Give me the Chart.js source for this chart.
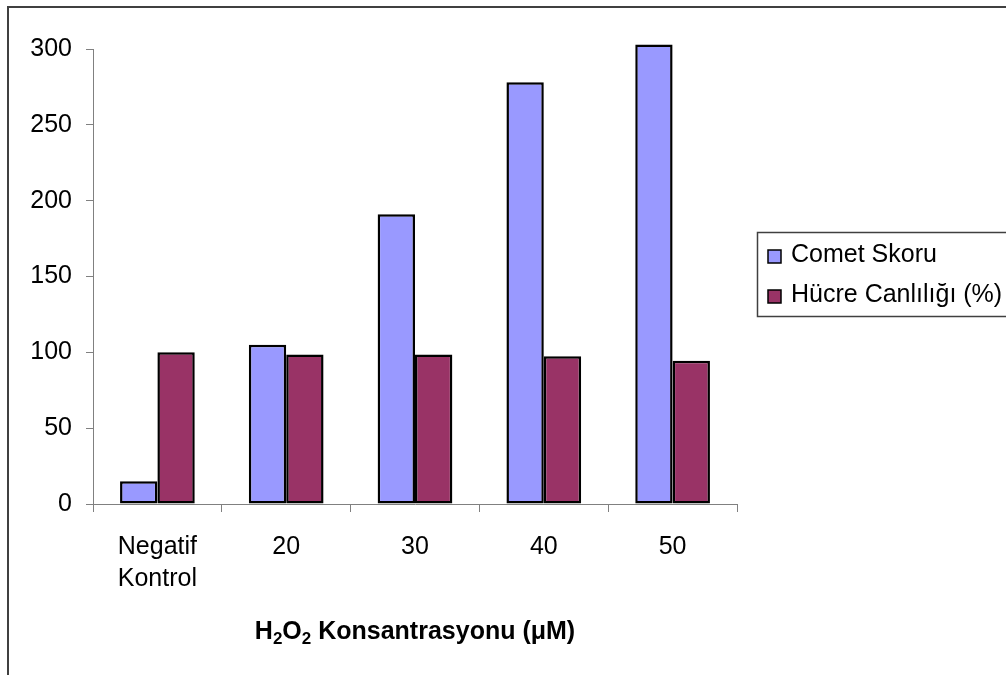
<!DOCTYPE html>
<html><head><meta charset="utf-8">
<script src="https://cdn.jsdelivr.net/npm/chart.js@4.4.0/dist/chart.umd.min.js"></script>
<style>
html,body{margin:0;padding:0;background:#fff;overflow:hidden;width:1006px;height:675px}
#frame{position:absolute;left:7px;top:6px;width:1100px;height:800px;border:2px solid #404040;box-sizing:border-box}
#wrap{position:absolute;left:0;top:0;width:1006px;height:675px}
</style></head><body>
<div id="frame"></div>
<div id="wrap"><canvas id="c" width="1006" height="675"></canvas></div>
<script>
const categories = [["Negatif","Kontrol"], "20", "30", "40", "50"];
const seriesNames = ["Comet Skoru", "Hücre Canlılığı (%)"];
const cometSkoru = [15, 105, 191, 278, 303];
const hucreCanliligi = [100, 98.5, 98.5, 97.5, 94.5];
const yTicks = [0, 50, 100, 150, 200, 250, 300];
// x-axis title pieces: [text, subscript?]
const axisTitleParts = [["H", false], ["2", true], ["O", false], ["2", true], [" Konsantrasyonu (μM)", false]];

const FAMILY = '"Liberation Sans", Arial, sans-serif';

const boxLegend = {
  id: 'boxLegend',
  afterDraw(chart) {
    const ctx = chart.ctx;
    ctx.save();
    ctx.strokeStyle = '#404040';
    ctx.lineWidth = 1.5;
    ctx.strokeRect(757.5, 232.5, 300, 84);
    const rows = [255, 295];
    chart.data.datasets.forEach((ds, i) => {
      const y = rows[i];
      ctx.fillStyle = ds.backgroundColor;
      ctx.fillRect(768, y - 5, 13, 13);
      ctx.strokeStyle = '#000';
      ctx.lineWidth = 1.5;
      ctx.strokeRect(768, y - 5, 13, 13);
      ctx.fillStyle = '#000';
      ctx.font = '25px ' + FAMILY;
      ctx.textBaseline = 'middle';
      ctx.textAlign = 'left';
      ctx.fillText(ds.label, 791, y);
    });
    ctx.restore();
  }
};

const axisTitlePlugin = {
  id: 'axisTitlePlugin',
  afterDraw(chart) {
    const ctx = chart.ctx;
    const area = chart.chartArea;
    const cx = (area.left + area.right) / 2;
    const baseline = area.bottom + 135;
    const mainFont = 'bold 25px ' + FAMILY;
    const subFont = 'bold 17px ' + FAMILY;
    ctx.save();
    ctx.textBaseline = 'alphabetic';
    ctx.textAlign = 'left';
    ctx.fillStyle = '#000';
    let total = 0;
    const widths = axisTitleParts.map(([t, sub]) => {
      ctx.font = sub ? subFont : mainFont;
      const w = ctx.measureText(t).width;
      total += w;
      return w;
    });
    let x = cx - total / 2;
    axisTitleParts.forEach(([t, sub], i) => {
      ctx.font = sub ? subFont : mainFont;
      ctx.fillText(t, x, baseline + (sub ? 5 : 0));
      x += widths[i];
    });
    ctx.restore();
  }
};

new Chart(document.getElementById('c'), {
  type: 'bar',
  data: {
    labels: categories,
    datasets: [
      { label: seriesNames[0], data: cometSkoru, backgroundColor: '#9999FF', borderColor: '#000', borderWidth: 2.5, borderSkipped: false, clip: false },
      { label: seriesNames[1], data: hucreCanliligi, backgroundColor: '#993366', borderColor: '#000', borderWidth: 2.5, borderSkipped: false, clip: false }
    ]
  },
  options: {
    responsive: false,
    animation: false,
    devicePixelRatio: 1,
    layout: { padding: { left: 13, top: 49, right: 269, bottom: 21 } },
    plugins: { legend: { display: false }, tooltip: { enabled: false } },
    datasets: { bar: { categoryPercentage: 0.58, barPercentage: 1 } },
    scales: {
      x: {
        grid: { drawOnChartArea: false, drawTicks: true, tickLength: 8, color: '#808080', offset: true },
        border: { color: '#808080', width: 1 },
        ticks: { color: '#000', font: { family: FAMILY, size: 25, lineHeight: 1.28 }, padding: 19, maxRotation: 0, autoSkip: false },
        title: { display: false },
        afterFit(s) { s.height = 150; }
      },
      y: {
        min: 0, max: 300,
        afterBuildTicks(s) { s.ticks = yTicks.map(v => ({ value: v })); },
        ticks: { color: '#000', font: { family: FAMILY, size: 25 }, padding: 14 },
        grid: { drawOnChartArea: false, drawTicks: true, tickLength: 7, color: '#808080' },
        border: { color: '#808080', width: 1 },
        afterFit(s) { s.width = 80; }
      }
    }
  },
  plugins: [boxLegend, axisTitlePlugin]
});
</script>
</body></html>
